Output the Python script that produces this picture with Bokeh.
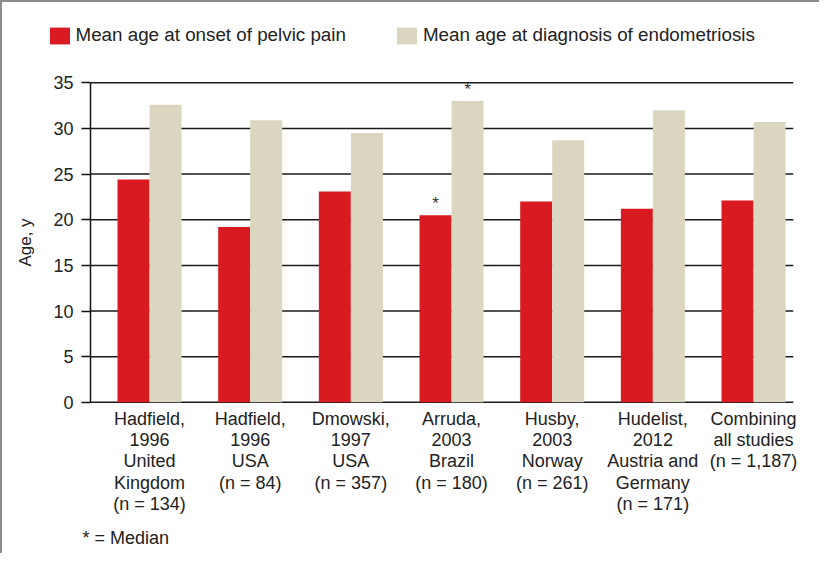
from bokeh.plotting import figure
from bokeh.models import (Range1d, FixedTicker, Legend, LegendItem, Title, ColumnDataSource)
from bokeh.transform import dodge
from bokeh.embed import file_html
from bokeh.resources import INLINE

studies = [
    "Hadfield,\n1996\nUnited\nKingdom\n(n = 134)",
    "Hadfield,\n1996\nUSA\n(n = 84)",
    "Dmowski,\n1997\nUSA\n(n = 357)",
    "Arruda,\n2003\nBrazil\n(n = 180)",
    "Husby,\n2003\nNorway\n(n = 261)",
    "Hudelist,\n2012\nAustria and\nGermany\n(n = 171)",
    "Combining\nall studies\n(n = 1,187)",
]
onset_pain = [24.4, 19.2, 23.1, 20.5, 22.0, 21.2, 22.1]
diagnosis = [32.6, 30.9, 29.5, 33.0, 28.7, 32.0, 30.7]
median_onset = [False, False, False, True, False, False, False]
median_diag = [False, False, False, True, False, False, False]
y_ticks = [0, 5, 10, 15, 20, 25, 30, 35]

RED = "#d91a21"
BEIGE = "#dbd6bf"
FONT = "Liberation Sans"

idx = list(range(len(studies)))
bw = 0.318
X_AXIS_START, X_END = -0.586, 6.397
Y_MAX = 35

p = figure(width=819, height=553, output_backend="svg", toolbar_location=None,
           x_range=Range1d(-1.381, X_END), y_range=Range1d(-1.01, 41.83),
           min_border_left=8, min_border_right=28, min_border_top=18, min_border_bottom=140)
p.outline_line_color = None
p.background_fill_color = "white"
p.border_fill_color = "white"
p.styles = {"border-top": "2px solid #8c8c8c", "border-left": "2px solid #8c8c8c"}

# horizontal grid lines limited to the chart area (the line at 0 is the x axis line)
p.xgrid.grid_line_color = None
p.ygrid.grid_line_color = None
p.segment(x0=[X_AXIS_START] * len(y_ticks), x1=[X_END] * len(y_ticks), y0=y_ticks, y1=y_ticks,
          line_color="#1a1a1a", line_width=1.5)

src = ColumnDataSource(dict(x=idx, onset=onset_pain, diag=diagnosis))
r1 = p.vbar(x=dodge("x", -bw / 2), top="onset", width=bw, bottom=0, source=src,
            color=RED, line_color=None)
r2 = p.vbar(x=dodge("x", bw / 2), top="diag", width=bw, bottom=0, source=src,
            color=BEIGE, line_color=None)

# median asterisks
sx, sy = [], []
for i in idx:
    if median_onset[i]:
        sx.append(i - bw / 2); sy.append(onset_pain[i])
    if median_diag[i]:
        sx.append(i + bw / 2); sy.append(diagnosis[i])
p.text(x=sx, y=sy, text=["*"] * len(sx), text_align="center",
       text_baseline="bottom", y_offset=-2, text_font_size="17px", text_color="#333333",
       text_font={"value": FONT})

# axes
yax = p.yaxis[0]
yax.fixed_location = X_AXIS_START
yax.bounds = (0, Y_MAX)
yax.ticker = FixedTicker(ticks=y_ticks)
yax.axis_line_color = "#111111"
yax.axis_line_width = 1.5
yax.major_tick_line_color = "#111111"
yax.major_tick_line_width = 1.5
yax.major_tick_out = 9
yax.major_tick_in = 0
yax.minor_tick_line_color = None
yax.major_label_text_font = FONT
yax.major_label_text_font_size = "18px"
yax.major_label_text_color = "#222222"
yax.major_label_standoff = 8
yax.axis_label = "Age, y"
yax.axis_label_text_font = FONT
yax.axis_label_text_font_size = "17px"
yax.axis_label_text_font_style = "normal"
yax.axis_label_text_color = "#222222"
yax.axis_label_standoff = 15

xax = p.xaxis[0]
xax.ticker = FixedTicker(ticks=idx)
xax.major_label_overrides = {i: s for i, s in zip(idx, studies)}
xax.axis_line_color = None
xax.major_tick_line_color = None
xax.minor_tick_line_color = None
xax.major_tick_out = 0
xax.major_tick_in = 0
xax.major_label_text_font = FONT
xax.major_label_text_font_size = "18px"
xax.major_label_text_color = "#222222"
xax.major_label_text_line_height = 1.07
xax.major_label_standoff = -3

# legend
lg = Legend(items=[LegendItem(label="Mean age at onset of pelvic pain", renderers=[r1]),
                   LegendItem(label="Mean age at diagnosis of endometriosis", renderers=[r2])],
            location=(36.5, 365), orientation="horizontal", padding=0, margin=0, spacing=48,
            border_line_color=None, background_fill_alpha=0,
            glyph_width=25, glyph_height=21, label_standoff=4,
            label_text_font=FONT, label_text_font_size="18.8px",
            label_text_color="#222222", label_height=18)
p.add_layout(lg, "center")

note = Title(text="* = Median", align="left", offset=72, standoff=16,
             text_font=FONT, text_font_size="18px", text_color="#222222",
             text_font_style="normal")
p.add_layout(note, "below")

open("out.html", "w").write(file_html(p, INLINE))
